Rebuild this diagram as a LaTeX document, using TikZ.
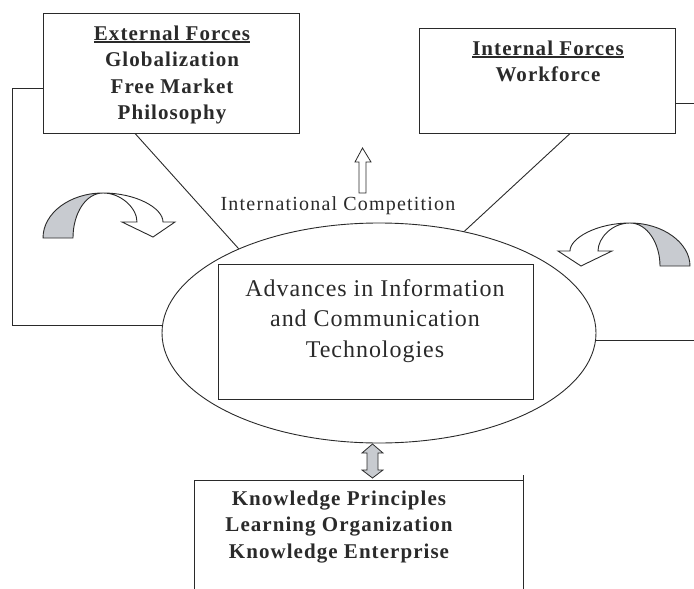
\documentclass[tikz,border=0pt]{standalone}
\usepackage{fontspec}
\setmainfont{Liberation Serif}
\newfontfamily\boldls[LetterSpace=5]{Liberation Serif}
\newfontfamily\regls[LetterSpace=4]{Liberation Serif}
\newfontfamily\compls[LetterSpace=6]{Liberation Serif}
\usetikzlibrary{shapes.geometric,calc}
\definecolor{ln}{HTML}{2A2A2A}
\definecolor{agray}{HTML}{C8CBD0}
\newcommand\myul[1]{\setbox0\hbox{#1}\rlap{\rule[-3.5pt]{\wd0}{2.4pt}}\box0}
\begin{document}
\begin{tikzpicture}[x=1pt,y=-1pt,line width=0.9pt,color=ln,
  box/.style={draw,rectangle,inner sep=0pt},
  btxt/.style={anchor=base,inner sep=0pt,font=\boldls\bfseries\fontsize{21}{26.5}\selectfont},
  rtxt/.style={anchor=base,inner sep=0pt,font=\regls\fontsize{24}{30.5}\selectfont},
  ctxt/.style={anchor=base,inner sep=0pt,font=\compls\fontsize{20}{24}\selectfont}]
\useasboundingbox (0,0) rectangle (694,589);
\clip (0,0) rectangle (694,589);
\coordinate (R) at (694,0);
% boxes
\node[box,minimum width=256pt,minimum height=120pt] (ext) at (171,73) {};
\node[box,minimum width=256pt,minimum height=105pt] (int) at (547,80.5) {};
\node[ellipse,draw,minimum width=434pt,minimum height=220pt,inner sep=0pt] (ell) at (379,333) {};
\node[box,minimum width=315pt,minimum height=135pt] (adv) at (375.5,331.5) {};
\node[box,minimum width=329pt,minimum height=140pt,anchor=north west] (kno) at (194,480) {};
% texts
\node[btxt] (extt) at (172,40) {\begin{tabular}[t]{@{}c@{}}\myul{External Forces}\\Globalization\\Free Market\\Philosophy\end{tabular}};
\node[btxt] (intt) at (548,55) {\begin{tabular}[t]{@{}c@{}}\myul{Internal Forces}\\Workforce\end{tabular}};
\node[btxt] (knot) at (339,505) {\begin{tabular}[t]{@{}c@{}}Knowledge Principles\\Learning Organization\\Knowledge Enterprise\end{tabular}};
\node[rtxt] (advt) at (375,296) {\begin{tabular}[t]{@{}c@{}}Advances in Information\\and Communication\\Technologies\end{tabular}};
\node[ctxt] (comp) at (338,210) {International Competition};
% connectors
\draw ($(ext.south west)!0.36!(ext.south east)$) -- (ell.149);
\draw ($(int.south west)!0.59!(int.south east)$) -- (ell.50);
\coordinate (l1) at ([yshift=-15pt]ext.west);
\draw (l1) -- ++(-30,0) |- (ell.178);
\coordinate (i1) at ([yshift=-22.5pt]int.east);
\draw (i1) -- (i1 -| R);
\coordinate (e1) at (ell.-2);
\draw (e1) -- (e1 -| R);
\draw (kno.north east) -- ++(0,-5);
% double arrow between ellipse and bottom box
\draw[fill=agray,line width=0.8pt] (372.5,444) -- (383,453) -- (378,453) -- (378,470) -- (383,470) -- (372.5,478) -- (362,470) -- (367,470) -- (367,453) -- (362,453) -- cycle;
% hollow up arrow
\draw[fill=white,line width=0.8pt] (359,193) -- (366,193) -- (366,162) -- (371,162) -- (362.5,148) -- (355,162) -- (359,162) -- cycle;
% curved arrows
\begin{scope}[shift={(103,193)},yscale=-1]
 \draw[fill=agray] (-60,-45) .. controls (-60,-20) and (-33,0) .. (0,0) .. controls (-17,0) and (-30,-20) .. (-30,-45) -- cycle;
 \draw[fill=white] (0,0) .. controls (33,0) and (60,-15) .. (60,-29) -- (72,-29) -- (50,-44) -- (19,-29) -- (34,-29) .. controls (34,-15) and (18,0) .. (0,0) -- cycle;
\end{scope}
\begin{scope}[shift={(630,223)},xscale=-1,yscale=-1]
 \draw[fill=agray] (-60,-43) .. controls (-60,-20) and (-33,0) .. (0,0) .. controls (-17,0) and (-30,-20) .. (-30,-43) -- cycle;
 \draw[fill=white] (0,0) .. controls (33,0) and (60,-15) .. (60,-28) -- (72,-28) -- (49,-43) -- (18,-28) -- (32,-28) .. controls (32,-15) and (18,0) .. (0,0) -- cycle;
\end{scope}
\end{tikzpicture}
\end{document}
